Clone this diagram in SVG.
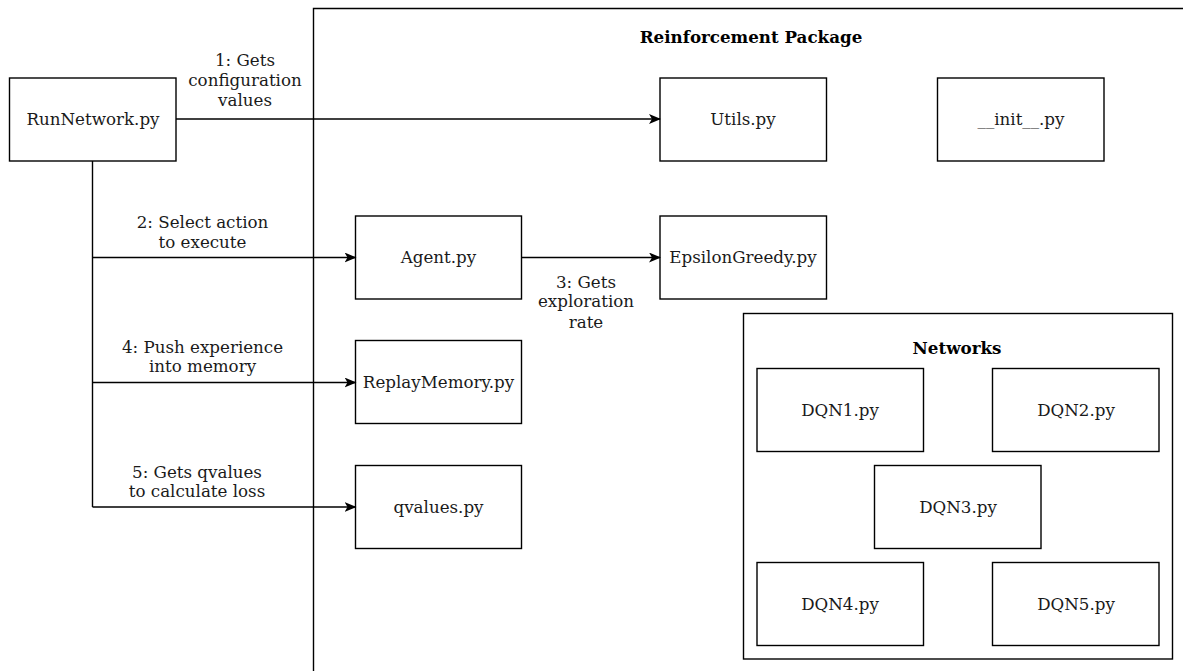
<svg xmlns="http://www.w3.org/2000/svg" width="1183" height="671" viewBox="0 0 1183 671">
  <style>
    .box { fill: #ffffff; stroke: #000000; stroke-width: 1.4; }
    .frame { fill: none; stroke: #000000; stroke-width: 1.4; }
    .wire { fill: none; stroke: #000000; stroke-width: 1.4; }
    text { font-family: "DejaVu Serif", "Liberation Serif", serif; font-size: 16.7px; fill: #1a1a1a; text-anchor: middle; }
    .title { font-weight: bold; fill: #000000; }
  </style>
  <defs>
    <marker id="arrow" viewBox="0 0 12 10" refX="11" refY="5" markerWidth="12" markerHeight="10" markerUnits="userSpaceOnUse" orient="auto">
      <path d="M0,0 L12,5 L0,10 L3,5 Z" fill="#000000"/>
    </marker>
  </defs>

  <rect width="1183" height="671" fill="#ffffff"/>

  <!-- package container (runs off the right and bottom edges) -->
  <g id="reinforcement-package">
    <path class="frame" d="M313.5,671 L313.5,8.5 L1183,8.5"/>
    <text class="title" x="751" y="43">Reinforcement Package</text>
  </g>

  <g id="networks">
    <rect class="box" x="743.5" y="313.5" width="429" height="345.5"/>
    <text class="title" x="957" y="354">Networks</text>
  </g>

  <g id="runnetwork">
    <rect class="box" x="9.5" y="78" width="166.5" height="83"/>
    <text x="93" y="125">RunNetwork.py</text>
  </g>

  <g id="utils">
    <rect class="box" x="660" y="78" width="166.5" height="83"/>
    <text x="743" y="125">Utils.py</text>
  </g>

  <g id="init">
    <rect class="box" x="937.5" y="78" width="166.5" height="83"/>
    <text x="1021" y="125">__init__.py</text>
  </g>

  <g id="agent">
    <rect class="box" x="355.5" y="216" width="166" height="83"/>
    <text x="438.5" y="263">Agent.py</text>
  </g>

  <g id="epsilongreedy">
    <rect class="box" x="660" y="216" width="166.5" height="83"/>
    <text x="743" y="263">EpsilonGreedy.py</text>
  </g>

  <g id="replaymemory">
    <rect class="box" x="355.5" y="340.5" width="166" height="83"/>
    <text x="438.5" y="388">ReplayMemory.py</text>
  </g>

  <g id="qvalues">
    <rect class="box" x="355.5" y="465.5" width="166" height="83"/>
    <text x="438.5" y="513">qvalues.py</text>
  </g>

  <g id="dqn1">
    <rect class="box" x="757" y="368.5" width="166.5" height="83"/>
    <text x="840" y="416">DQN1.py</text>
  </g>

  <g id="dqn2">
    <rect class="box" x="992.5" y="368.5" width="166.5" height="83"/>
    <text x="1076" y="416">DQN2.py</text>
  </g>

  <g id="dqn3">
    <rect class="box" x="874.5" y="465.5" width="166.5" height="83"/>
    <text x="958" y="513">DQN3.py</text>
  </g>

  <g id="dqn4">
    <rect class="box" x="757" y="562.5" width="166.5" height="83"/>
    <text x="840" y="610">DQN4.py</text>
  </g>

  <g id="dqn5">
    <rect class="box" x="992.5" y="562.5" width="166.5" height="83"/>
    <text x="1076" y="610">DQN5.py</text>
  </g>

  <!-- connectors and their labels -->
  <g id="connectors">
    <path class="wire" d="M176,119 L660,119" marker-end="url(#arrow)"/>
    <path class="wire" d="M92.5,161 L92.5,507"/>
    <path class="wire" d="M92.5,257.5 L355.5,257.5" marker-end="url(#arrow)"/>
    <path class="wire" d="M92.5,382.5 L355.5,382.5" marker-end="url(#arrow)"/>
    <path class="wire" d="M92.5,507 L355.5,507" marker-end="url(#arrow)"/>
    <path class="wire" d="M521.5,257.5 L660,257.5" marker-end="url(#arrow)"/>

    <text x="245" y="66">1: Gets</text>
    <text x="245" y="86">configuration</text>
    <text x="245" y="106">values</text>

    <text x="202.5" y="227.5">2: Select action</text>
    <text x="202.5" y="247.5">to execute</text>

    <text x="586" y="287.5">3: Gets</text>
    <text x="586" y="307">exploration</text>
    <text x="586" y="327.5">rate</text>

    <text x="202.5" y="352.5">4: Push experience</text>
    <text x="202.5" y="372">into memory</text>

    <text x="197" y="477.5">5: Gets qvalues</text>
    <text x="197" y="497">to calculate loss</text>
  </g>
</svg>
